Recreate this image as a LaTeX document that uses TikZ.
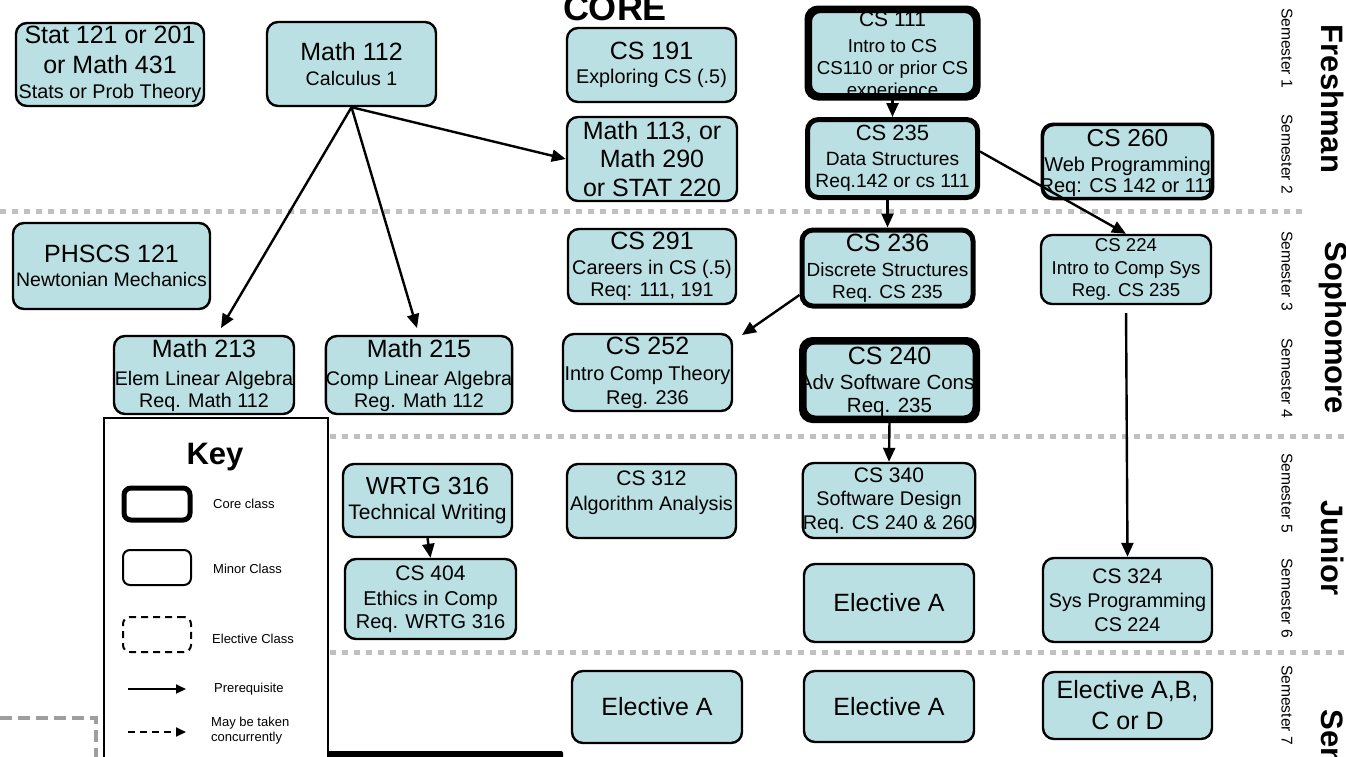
\documentclass[tikz,border=0pt]{standalone}
\usepackage{fontspec}
\setmainfont{Liberation Sans}
\usetikzlibrary{arrows.meta,calc}
\definecolor{boxfill}{RGB}{186,224,227}
\definecolor{gridgray}{RGB}{192,192,192}
\definecolor{cornergray}{RGB}{158,158,158}
\newcommand\szT{\fontsize{25}{29}\selectfont}
\newcommand\szM{\fontsize{21}{24}\selectfont}
\newcommand\szK{\fontsize{13}{15.5}\selectfont}
\begin{document}
\begin{tikzpicture}[x=1pt,y=-1pt,
  box/.style={draw=black, line width=2.4pt, fill=boxfill, rounded corners=11pt, inner sep=0pt, align=center},
  corebox/.style={box, line width=5pt},
  arr/.style={-{Triangle[length=14pt,width=12pt]}, line width=2.4pt},
  keyarr/.style={-{Triangle[length=10pt,width=9pt]}, line width=2pt},
  semlab/.style={rotate=-90, font=\fontsize{15.6}{18}\selectfont, inner sep=0pt},
  yearlab/.style={rotate=-90, font=\fontsize{31}{36}\selectfont\bfseries, inner sep=0pt},
  gridline/.style={draw=gridgray, line width=5pt, dash pattern=on 6pt off 6pt},
  keylab/.style={anchor=west, font=\szK, inner sep=0pt, align=left},
  keyshape/.style={draw=black, rounded corners=7pt, inner sep=0pt, minimum width=68pt, minimum height=35pt},
  cliptext/.style={align=center, inner sep=0pt},
]
\useasboundingbox (0,0) rectangle (1346,756);
\clip (0,0) rectangle (1346,756);
\fill[white] (0,0) rectangle (1346,756);

% semester separators
\draw[gridline] (0,211) -- (1305,211);
\draw[gridline] (330,436) -- (1346,436);
\draw[gridline] (330,652) -- (1346,652);

% title
\node[font=\fontsize{36}{40}\selectfont\bfseries, anchor=base, inner sep=0pt] (coret) at (615,20) {CORE};

% row 1-2
\node[box, minimum width=188pt, minimum height=83pt, font=\fontsize{25}{30}\selectfont] (stat) at (110,64.5)
  {Stat 121 or 201\\or Math 431\\[-5pt]{\fontsize{19.8}{24}\selectfont Stats or Prob Theory}};
\node[box, minimum width=169pt, minimum height=84pt, font=\fontsize{19.6}{25}\selectfont] (m112) at (351.5,64)
  {{\szT Math 112}\\Calculus 1};
\node[box, minimum width=169pt, minimum height=74pt, font=\fontsize{19.8}{24}\selectfont] (cs191) at (651.5,65)
  {{\szT CS 191}\\Exploring CS (.5)};
\node[box, minimum width=170pt, minimum height=84pt, font=\fontsize{25}{28.5}\selectfont] (m113) at (652,159)
  {Math 113, or\\Math 290\\or STAT 220};

\node[corebox, minimum width=166pt, minimum height=85pt] (cs111) at (892.5,53) {};
\begin{scope}
  \clip[rounded corners=11pt] (cs111.south west) rectangle (cs111.north east);
  \node[cliptext, font=\fontsize{18.7}{22}\selectfont] (cs111t) at (892.5,56.3)
    {{\fontsize{21}{24}\selectfont CS 111}\\[4pt]Intro to CS\\CS110 or prior CS\\experience};
\end{scope}
\draw[line width=5pt, rounded corners=11pt] (cs111.south west) rectangle (cs111.north east);

\node[corebox, minimum width=170pt, minimum height=78pt, font=\fontsize{19.2}{22}\selectfont] (cs235) at (892.5,158.5)
  {{\fontsize{22}{24}\selectfont CS 235}\\[3pt]Data Structures\\Req.142 or cs 111};

\node[box, minimum width=169pt, minimum height=73pt] (cs260) at (1127.5,161.5) {};
\begin{scope}
  \clip[rounded corners=11pt] (cs260.south west) rectangle (cs260.north east);
  \node[cliptext, font=\fontsize{20}{21.5}\selectfont] (cs260t) at (1127.5,163)
    {{\fontsize{24.5}{26}\selectfont CS 260}\\[3.5pt]Web Programming\\Req: CS 142 or 111};
\end{scope}
\draw[line width=2.4pt, rounded corners=11pt] (cs260.south west) rectangle (cs260.north east);

% row 3
\node[box, minimum width=197pt, minimum height=86pt, font=\fontsize{19.5}{24}\selectfont] (phscs) at (111.5,266)
  {{\szT PHSCS 121}\\Newtonian Mechanics};
\node[box, minimum width=168pt, minimum height=75pt, font=\fontsize{19.8}{22.5}\selectfont] (cs291) at (652,266.5)
  {{\szT CS 291}\\[2.5pt]Careers in CS (.5)\\Req: 111, 191};
\node[corebox, minimum width=171pt, minimum height=76pt, font=\fontsize{19}{22.5}\selectfont] (cs236) at (887.5,268)
  {{\szT CS 236}\\[2.5pt]Discrete Structures\\Req. CS 235};
\node[box, minimum width=170pt, minimum height=69pt, font=\fontsize{18.6}{22.5}\selectfont] (cs224) at (1126,269.5)
  {CS 224\\Intro to Comp Sys\\Reg. CS 235};

% row 4
\node[box, minimum width=180pt, minimum height=78pt, font=\fontsize{19.7}{22}\selectfont] (m213) at (204,375)
  {{\szT Math 213}\\[6pt]Elem Linear Algebra\\Req. Math 112};
\node[box, minimum width=186pt, minimum height=78pt, font=\fontsize{19.7}{22}\selectfont] (m215) at (419,375)
  {{\szT Math 215}\\[6pt]Comp Linear Algebra\\Reg. Math 112};
\node[box, minimum width=169pt, minimum height=77pt, font=\fontsize{19.9}{24}\selectfont] (cs252) at (647.5,372.5)
  {{\szT CS 252}\\[2pt]Intro Comp Theory\\Reg. 236};

\node[corebox, minimum width=171pt, minimum height=76pt] (cs240) at (889.5,380) {};
\begin{scope}
  \clip[rounded corners=11pt] (cs240.south west) rectangle (cs240.north east);
  \node[cliptext, font=\fontsize{20.5}{23}\selectfont] (cs240t) at (889.5,382)
    {{\szT CS 240}\\[2pt]Adv Software Cons.\\Req. 235};
\end{scope}
\draw[line width=5pt, rounded corners=11pt] (cs240.south west) rectangle (cs240.north east);

% row 5-6
\node[box, minimum width=169pt, minimum height=73pt, font=\fontsize{21}{25}\selectfont] (wrtg) at (427.5,500.5)
  {{\fontsize{24.7}{26}\selectfont WRTG 316}\\Technical Writing};
\node[box, minimum width=171pt, minimum height=80pt, font=\fontsize{20}{23.5}\selectfont] (cs404) at (430.5,599)
  {{\szM CS 404}\\[1.5pt]Ethics in Comp\\Req. WRTG 316};
\node[box, minimum width=169pt, minimum height=74pt, font=\fontsize{19.8}{25}\selectfont] (cs312) at (651.5,501)
  {{\szM CS 312}\\Algorithm Analysis\\[-5pt]\mbox{}};
\node[box, minimum width=170pt, minimum height=75pt, font=\fontsize{19.8}{23.5}\selectfont] (cs340) at (889,500.5)
  {{\szM CS 340}\\Software Design\\Req. CS 240 \& 260};
\node[box, minimum width=170pt, minimum height=78pt, font=\szT] (elA1) at (889,603) {Elective A};
\node[box, minimum width=169pt, minimum height=84pt, font=\fontsize{19.8}{24}\selectfont] (cs324) at (1127.5,600)
  {{\szM CS 324}\\Sys Programming\\CS 224};

% row 7
\node[box, minimum width=170pt, minimum height=72pt, font=\szT] (elA2) at (657,707) {Elective A};
\node[box, minimum width=170pt, minimum height=71pt, font=\szT] (elA3) at (889,706.5) {Elective A};
\node[box, minimum width=169pt, minimum height=67pt, font=\fontsize{25}{31}\selectfont] (elABCD) at (1127.5,705.5)
  {Elective A,B,\\C or D};

% semester and year labels
\node[semlab] (s1) at (1287,48) {Semester 1};
\node[semlab] (s2) at (1287,154) {Semester 2};
\node[semlab] (s3) at (1287,271) {Semester 3};
\node[semlab] (s4) at (1287,378) {Semester 4};
\node[semlab] (s5) at (1287,493) {Semester 5};
\node[semlab] (s6) at (1287,598) {Semester 6};
\node[semlab] (s7) at (1287,705) {Semester 7};
\node[yearlab] (y1) at (1333,99) {Freshman};
\node[yearlab] (y2) at (1333,328) {Sophomore};
\node[yearlab] (y3) at (1333,548) {Junior};
\node[yearlab] (y4) at (1333,758) {Senior};

% gray dashed corner and black bar
\coordinate (gc1) at (0,718);
\coordinate (gc2) at (96,718);
\coordinate (gc3) at (96,770);
\draw[cornergray, line width=4.5pt, dash pattern=on 12pt off 6pt] (gc1) -- (gc2) -- (gc3);
\fill[black, rounded corners=2pt] (190,751) rectangle (563,775);

% key
\node[draw=black, line width=2.4pt, fill=white, minimum width=224pt, minimum height=360pt, anchor=north west, inner sep=0pt] (keybox) at (103,417) {};
\node[font=\fontsize{31}{36}\selectfont\bfseries, anchor=base, inner sep=0pt] (keyt) at (215,464) {Key};
\node[keyshape, line width=5pt, minimum width=66pt, minimum height=32pt] (kcore) at (157,504) {};
\node[keyshape, line width=2pt] (kminor) at (157,567.5) {};
\node[keyshape, line width=2pt, dash pattern=on 7pt off 5pt] (kelec) at (157,634.5) {};
\node[keylab] (lcore) at (213,504) {Core class};
\node[keylab] (lminor) at (213,569) {Minor Class};
\node[keylab] (lelec) at (212,639) {Elective Class};
\coordinate (kp1) at (128,689);
\coordinate (kp2) at (186,689);
\draw[keyarr] (kp1) -- (kp2);
\node[keylab] (lpre) at (214,689) {Prerequisite};
\coordinate (kc1) at (128,732);
\coordinate (kc2) at (186,732);
\draw[keyarr, dash pattern=on 7pt off 5pt] (kc1) -- (kc2);
\node[keylab, font=\fontsize{13}{15.5}\selectfont] (lcon) at (211,730.5) {May be taken\\concurrently};

% prerequisite arrows
\coordinate (t213) at (221,328);
\draw[arr] (m112.south) -- (m113.west);
\draw[arr] (m112.south) -- (t213);
\draw[arr, shorten >=7pt] (m112.south) -- (m215.north);
\draw[arr] (cs111.south) -- (cs235.north);
\draw[arr] (cs235.south -| cs236.north) -- (cs236.north);
\draw[arr] ($(cs235.east)+(0,-7)$) -- (cs224.north);
\coordinate (t252) at (742,335);
\draw[arr] ($(cs236.west)+(0,27)$) -- (t252);
\draw[arr, shorten <=8pt] (cs224.south) -- (cs324.north);
\draw[arr] (cs240.south) -- (cs340.north);
\draw[arr] (wrtg.south) -- (cs404.north);
\end{tikzpicture}
\end{document}
